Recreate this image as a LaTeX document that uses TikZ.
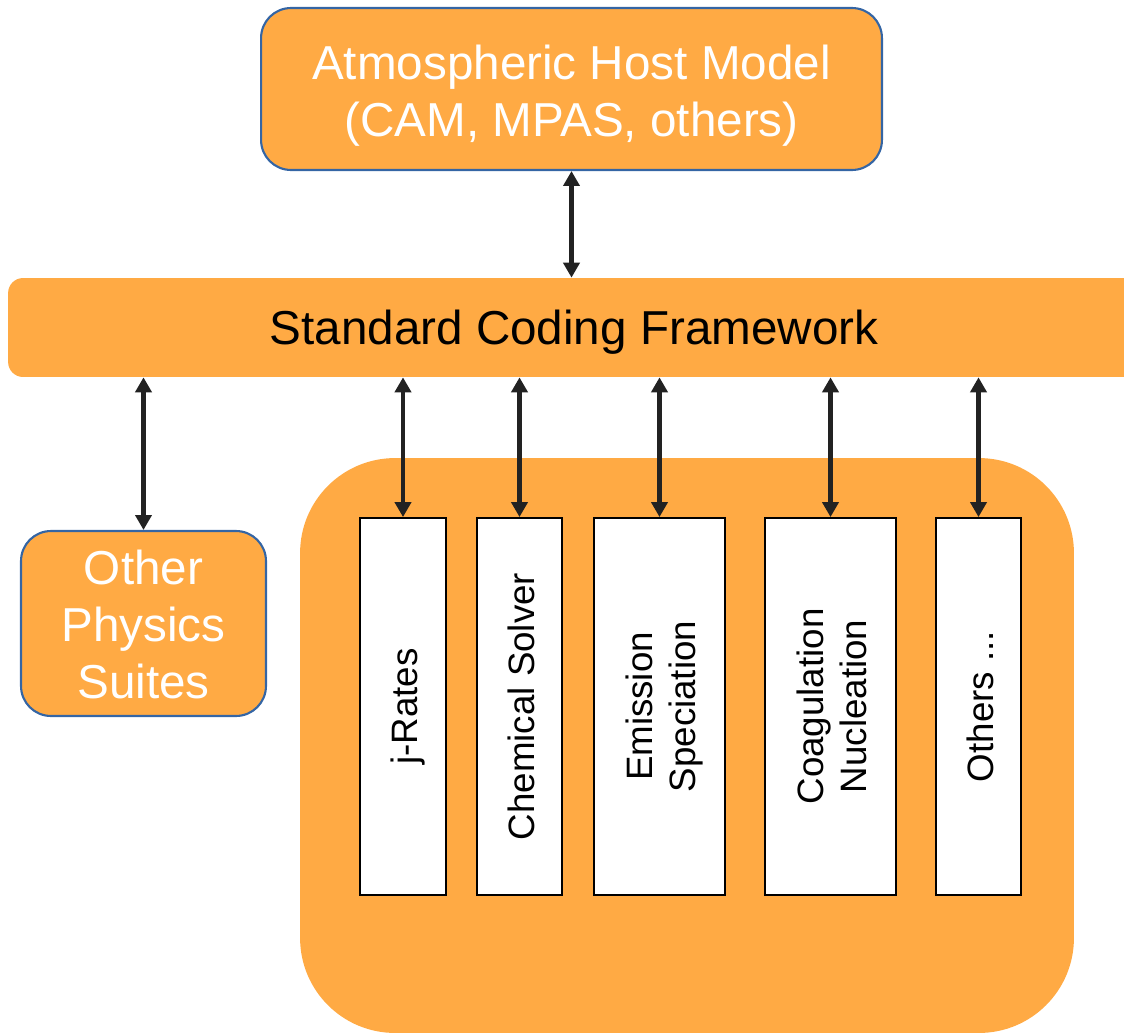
\documentclass[tikz,border=0pt]{standalone}
\usepackage{fontspec}
\setmainfont{Liberation Sans}
\usetikzlibrary{arrows.meta}
\definecolor{boxorange}{RGB}{255, 170, 68}
\definecolor{boxblue}{RGB}{52, 101, 164}
\definecolor{arrowgrey}{RGB}{34, 34, 34}

% centred lines, dropped a little below the middle of their box
\newcommand{\boxlines}[2]{\raisebox{-#1}[\height][\depth]{\begin{tabular}{@{}c@{}}#2\end{tabular}}}
% vertical label for the module columns
\newcommand{\vlabel}[1]{\rotatebox{90}{\boxlines{0.12cm}{#1}}}

\begin{document}
\begin{tikzpicture}[x=0.02cm, y=-0.02cm,
        box/.style={rectangle, rounded corners=0.6cm, draw=boxblue, line width=1.2pt,
                fill=boxorange, text=white, inner sep=0pt,
                font=\fontsize{27.1}{32.4}\selectfont},
        module/.style={rectangle, draw=black, line width=1.1pt, fill=white,
                minimum height=7.54cm, inner sep=0pt,
                font=\fontsize{20.9}{24.5}\selectfont},
        link/.style={draw=arrowgrey, line width=2.3pt,
                {Triangle[length=8.5pt,width=9.1pt]}-{Triangle[length=8.5pt,width=9.1pt]}}]

        \useasboundingbox (0,0) rectangle (1124,1034);

        % orange backdrop holding the chemistry modules
        \node[fill=boxorange, rounded corners=1.9cm, minimum width=15.48cm,
                minimum height=11.5cm] (suite) at (687,745.5) {};

        % the coding framework bar runs off the right edge
        \node[fill=boxorange, rounded corners=0.3cm, minimum width=22.64cm,
                minimum height=1.98cm, inner sep=0pt, font=\fontsize{27.1}{32.4}\selectfont]
                (framework) at (574,327.5) {\boxlines{0.12cm}{Standard Coding Framework}};

        \node[box, minimum width=12.42cm, minimum height=3.24cm] (host) at (571.5,89)
                {\boxlines{0.16cm}{Atmospheric Host Model\\(CAM, MPAS, others)}};

        \node[box, minimum width=4.9cm, minimum height=3.7cm] (physics) at (143.5,623.5)
                {\boxlines{0.13cm}{Other\\Physics\\Suites}};

        \draw[link] (host.south) -- (host.south |- framework.north);
        \draw[link] (physics.north) -- (physics.north |- framework.south);

        % one column per module, each tied to the framework
        % (the dots of the last label are split so foreach does not read a range)
        \foreach \name / \cx / \colw / \lbl in {
                        jrates/403/1.72cm/j-Rates, solver/519.5/1.70cm/Chemical Solver,
                        emission/659.5/2.62cm/{Emission\\Speciation},
                        aerosol/830.5/2.62cm/{Coagulation\\Nucleation},
                        others/978.5/1.70cm/{Others .{}.{}.}} {
            \node[module, minimum width=\colw] (\name) at (\cx,706.5) {\vlabel{\lbl}};
            \draw[link] (\name.north) -- (\name.north |- framework.south);
        }
\end{tikzpicture}
\end{document}
